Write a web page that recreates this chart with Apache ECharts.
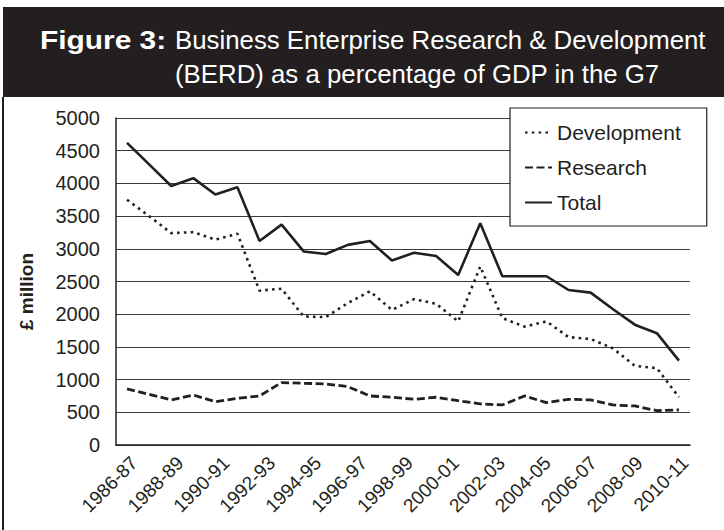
<!DOCTYPE html>
<html>
<head>
<meta charset="utf-8">
<script src="https://cdn.jsdelivr.net/npm/echarts@6/dist/echarts.min.js"></script>
<style>
  html, body { margin: 0; padding: 0; background: #fff; }
  #chart { width: 724px; height: 530px; }
</style>
</head>
<body>
<div id="chart"></div>
<script>
// data points (one per year, 26 of them)
const years = ['1986-87','1987-88','1988-89','1989-90','1990-91','1991-92','1992-93','1993-94',
  '1994-95','1995-96','1996-97','1997-98','1998-99','1999-00','2000-01','2001-02','2002-03',
  '2003-04','2004-05','2005-06','2006-07','2007-08','2008-09','2009-10','2010-11','2011-12'];

// tick labels as printed under the axis (every second one shown)
const tickYears = ['1986-87','1987-88','1988-89','1989-90','1990-91','1991-92','1992-93','1993-94',
  '1994-95','1995-96','1996-97','1997-98','1998-99','1999-00','2000-01','2001-02','2002-03',
  '2003-04','2004-05','2005-06','2006-07','2007-08','2008-09','2009-10','2010-11'];

const development = [3750, 3500, 3240, 3255, 3140, 3230, 2360, 2390, 1965, 1955, 2170, 2350, 2065,
  2230, 2160, 1890, 2730, 1940, 1810, 1890, 1650, 1620, 1480, 1210, 1175, 730];
const research = [857, 775, 690, 765, 663, 714, 750, 954, 944, 934, 893, 750, 730,
  699, 730, 678, 628, 612, 750, 648, 699, 689, 612, 597, 525, 536];
const total = [4620, 4290, 3960, 4080, 3830, 3940, 3120, 3370, 2960, 2920, 3060, 3120, 2820,
  2940, 2890, 2600, 3390, 2580, 2580, 2580, 2370, 2330, 2080, 1840, 1710, 1290];

const ink = '#231f20';
const font = 'Liberation Sans, Arial, Helvetica, sans-serif';

let myChart = echarts.init(document.getElementById('chart'), null, {renderer: 'svg'});

let option = {
  backgroundColor: '#fff',
  animation: false,
  textStyle: { fontFamily: font, color: ink },
  graphic: [
    // title band
    { type: 'rect', left: 3, top: 7, shape: { width: 721, height: 90 }, style: { fill: ink }, z: 0 },
    // frame line on the left
    { type: 'rect', left: 2, top: 97, shape: { width: 2, height: 433 }, style: { fill: ink }, z: 0 },
    { type: 'text', x: 40, y: 40, scaleX: 1.15, z: 1,
      style: { text: 'Figure 3:', fill: '#fff', font: 'bold 26px ' + font, verticalAlign: 'middle' } },
    { type: 'text', x: 175, y: 40, z: 1,
      style: { text: 'Business Enterprise Research & Development', fill: '#fff', font: '25.8px ' + font, verticalAlign: 'middle' } },
    { type: 'text', x: 175, y: 74, z: 1,
      style: { text: '(BERD) as a percentage of GDP in the G7', fill: '#fff', font: '25.8px ' + font, verticalAlign: 'middle' } }
  ],
  legend: {
    data: ['Development', 'Research', 'Total'],
    orient: 'vertical',
    left: 510,
    top: 108,
    padding: [14, 26, 13, 14],
    itemGap: 14,
    itemWidth: 27,
    itemHeight: 14,
    itemStyle: { opacity: 0 },
    backgroundColor: '#fff',
    borderColor: ink,
    borderWidth: 1.2,
    textStyle: { fontSize: 21, color: ink, fontFamily: font, lineHeight: 20 }
  },
  grid: { left: 116, right: 34, top: 118, bottom: 85 },
  xAxis: [
    {
      type: 'category',
      data: years,
      boundaryGap: true,
      axisLine: { lineStyle: { color: ink, width: 1.5 } },
      axisTick: { show: false },
      axisLabel: { show: false },
      splitLine: { show: false }
    },
    {
      type: 'category',
      data: tickYears,
      position: 'bottom',
      boundaryGap: true,
      axisLine: { show: false },
      axisTick: { show: false },
      splitLine: { show: false },
      axisLabel: { interval: 1, rotate: 45, margin: 8, verticalAlign: 'top', fontSize: 19, color: ink, fontFamily: font }
    }
  ],
  yAxis: {
    type: 'value',
    min: 0,
    max: 5000,
    interval: 500,
    name: '£ million',
    nameLocation: 'middle',
    nameGap: 80,
    nameTextStyle: { fontSize: 19, fontWeight: 'bold', color: ink, fontFamily: font, padding: [0, 20, 0, 0] },
    axisLine: { show: true, lineStyle: { color: ink, width: 1.5 } },
    axisTick: { show: false },
    axisLabel: { fontSize: 20, color: ink, margin: 16, fontFamily: font, formatter: v => String(v) },
    splitLine: { lineStyle: { color: '#3a3a3a', width: 1.2 } }
  },
  series: [
    {
      name: 'Development', type: 'line', data: development, symbol: 'none',
      itemStyle: { color: ink },
      lineStyle: { color: ink, width: 2.6, type: [2.6, 4.2] }
    },
    {
      name: 'Research', type: 'line', data: research, symbol: 'none',
      itemStyle: { color: ink },
      lineStyle: { color: ink, width: 2.8, type: [8, 3.5] }
    },
    {
      name: 'Total', type: 'line', data: total, symbol: 'none',
      itemStyle: { color: ink },
      lineStyle: { color: ink, width: 2.6 }
    }
  ]
};
myChart.setOption(option);
</script>
</body>
</html>
